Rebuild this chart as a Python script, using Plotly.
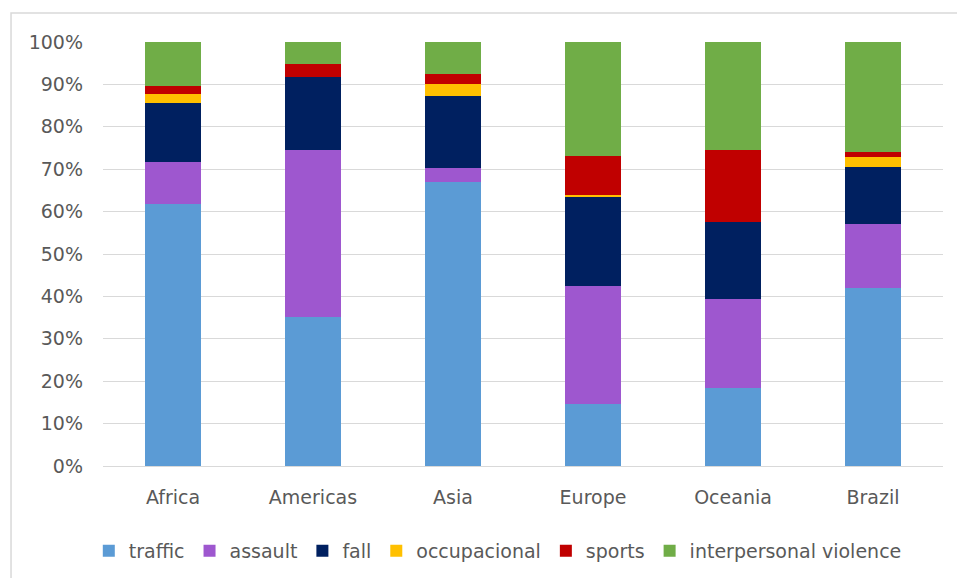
import plotly.graph_objects as go

regions = ["Africa", "Americas", "Asia", "Europe", "Oceania", "Brazil"]
traffic = [61.8, 35.2, 67.1, 14.6, 18.3, 42.1]
assault = [9.8, 39.3, 3.3, 27.9, 21.2, 15.0]
fall = [14.1, 17.2, 16.9, 21.0, 18.0, 13.5]
occupacional = [2.0, 0.0, 2.7, 0.3, 0.0, 2.3]
sports = [2.0, 3.0, 2.5, 9.2, 17.0, 1.2]
interpersonal = [10.3, 5.3, 7.5, 27.0, 25.5, 25.9]

series = [
    ("traffic", traffic, "#5B9BD5"),
    ("assault", assault, "#9E57CF"),
    ("fall", fall, "#002060"),
    ("occupacional", occupacional, "#FFC000"),
    ("sports", sports, "#C00000"),
    ("interpersonal violence", interpersonal, "#70AD47"),
]

FONT = "DejaVu Sans"
GRAY = "#595959"

fig = go.Figure()
for name, vals, col in series:
    tot = [v / 100.0 for v in vals]
    fig.add_trace(go.Bar(name=name, x=regions, y=tot, marker=dict(color=col, line=dict(width=0))))

fig.update_layout(
    barmode="stack",
    bargap=0.607,
    width=957,
    height=578,
    margin=dict(l=103, r=14, t=42, b=112, autoexpand=False),
    paper_bgcolor="white",
    plot_bgcolor="white",
    font=dict(family=FONT, size=19, color=GRAY),
    showlegend=True,
    legend=dict(
        orientation="h",
        x=0.47,
        xanchor="center",
        y=-0.2,
        yanchor="middle",
        font=dict(family=FONT, size=19, color=GRAY),
        traceorder="normal",
        itemwidth=30,
    ),
    xaxis=dict(
        showgrid=False,
        ticks="",
        showline=False,
        automargin=False,
        tickfont=dict(family=FONT, size=19, color=GRAY),
        ticklabelstandoff=18,
    ),
    yaxis=dict(
        range=[0, 1],
        tickvals=[i / 10 for i in range(11)],
        tickformat=".0%",
        showgrid=True,
        gridcolor="#D9D9D9",
        gridwidth=1,
        zeroline=True,
        zerolinecolor="#D9D9D9",
        zerolinewidth=1,
        ticks="",
        showline=False,
        automargin=False,
        tickfont=dict(family=FONT, size=19, color=GRAY),
        ticklabelstandoff=19,
    ),
    shapes=[
        dict(type="rect", xref="paper", yref="paper",
             x0=-0.1095, x1=1.2, y0=-0.6, y1=1.0684,
             line=dict(color="#D9D9D9", width=1.5), layer="below"),
    ],
)

fig.write_html("out.html")
